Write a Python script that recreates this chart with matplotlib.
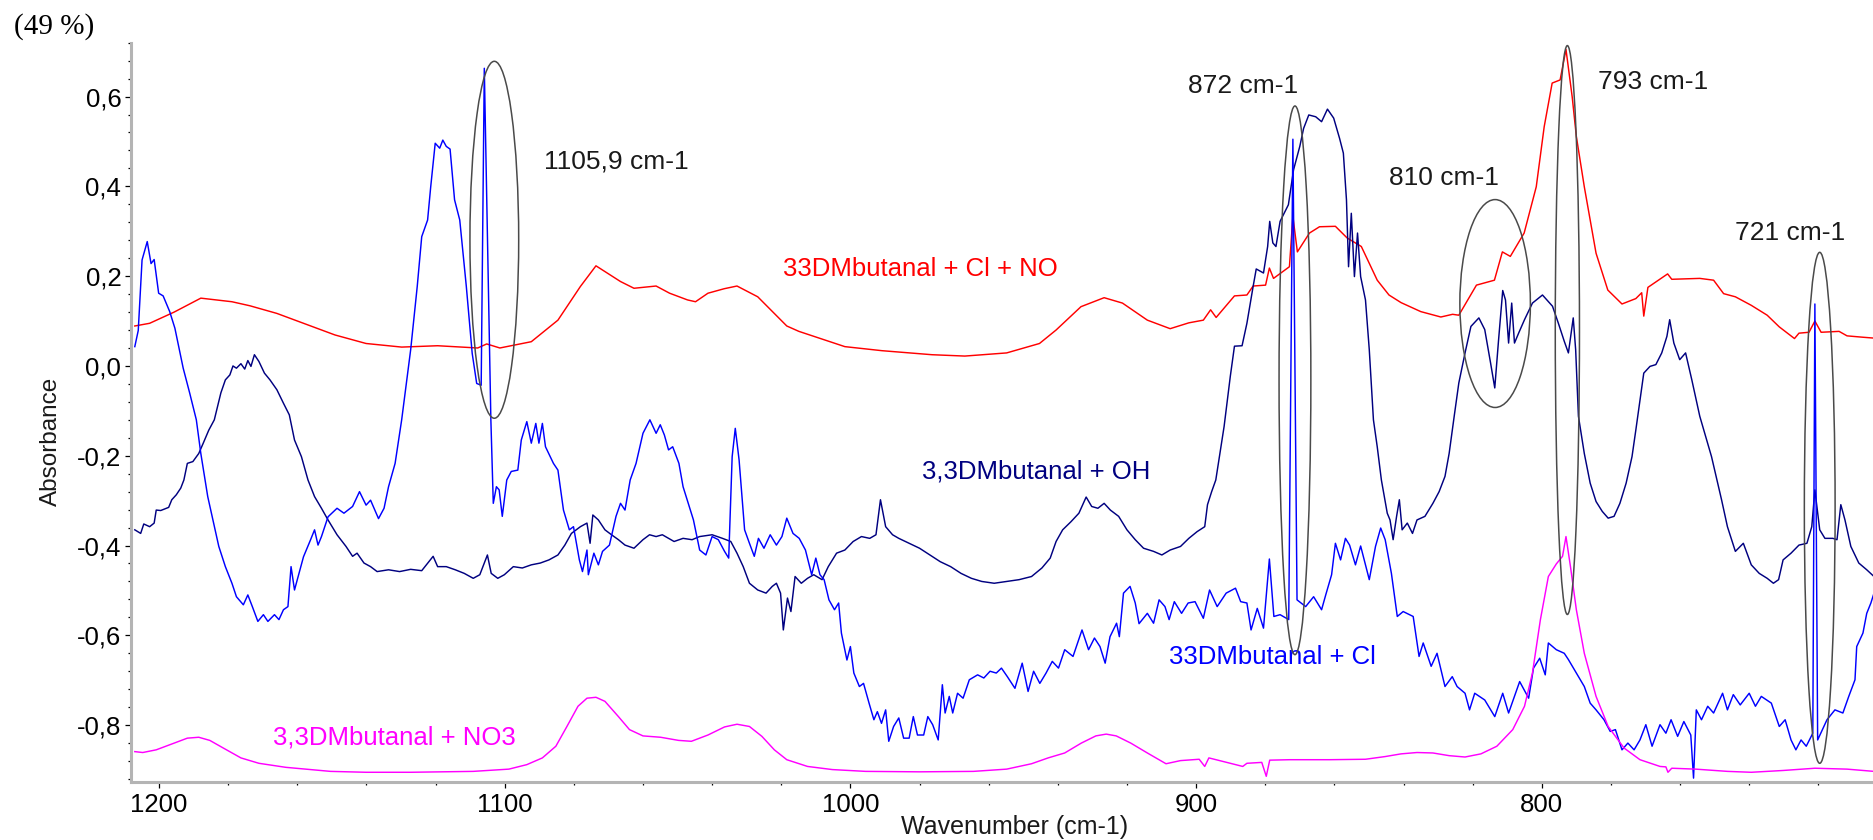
import matplotlib
matplotlib.use("Agg")
import matplotlib.pyplot as plt
from matplotlib.patches import Ellipse
from matplotlib.ticker import MultipleLocator, FixedLocator, FuncFormatter

# ---------------- spectra (wavenumber cm-1, absorbance) ----------------
wn_cl_no = [1207.0, 1202.7, 1195.6, 1187.9, 1178.9, 1173.7, 1165.9, 1158.2, 1149.1, 1140.1,
            1129.8, 1119.4, 1107.8, 1105.2, 1101.4, 1092.3, 1084.6, 1078.1, 1073.6, 1066.5,
            1062.6, 1056.2, 1052.3, 1047.1, 1044.8, 1041.2, 1036.5, 1032.8, 1026.8, 1018.4,
            1014.9, 1001.6, 990.9, 976.4, 966.9, 954.8, 945.3, 940.5, 933.3, 926.6,
            921.3, 914.1, 907.5, 902.1, 897.9, 895.8, 894.2, 888.9, 885.3, 883.5,
            879.9, 878.8, 877.6, 873.0, 872.0, 870.7, 867.2, 864.3, 859.7, 856.3,
            852.2, 847.6, 844.2, 840.7, 835.0, 829.2, 825.8, 824.0, 818.9, 813.7,
            811.4, 809.1, 805.1, 801.6, 799.3, 797.0, 794.7, 793.0, 791.2, 790.0,
            787.7, 784.3, 780.9, 776.8, 772.8, 771.1, 770.5, 769.3, 763.6, 762.4,
            754.3, 750.3, 747.4, 744.0, 739.4, 734.8, 731.3, 726.9, 725.6, 722.7,
            721.0, 719.2, 714.0, 711.7, 707.2, 703.9]
ab_cl_no = [0.089, 0.095, 0.120, 0.151, 0.143, 0.134, 0.117, 0.095, 0.069, 0.050,
            0.042, 0.045, 0.040, 0.049, 0.040, 0.054, 0.102, 0.177, 0.223, 0.188,
            0.173, 0.178, 0.162, 0.147, 0.143, 0.162, 0.172, 0.178, 0.154, 0.089,
            0.077, 0.043, 0.034, 0.025, 0.022, 0.029, 0.050, 0.080, 0.132, 0.152,
            0.140, 0.102, 0.083, 0.096, 0.102, 0.125, 0.108, 0.156, 0.158, 0.178,
            0.180, 0.218, 0.195, 0.221, 0.333, 0.254, 0.296, 0.310, 0.311, 0.285,
            0.266, 0.191, 0.158, 0.141, 0.121, 0.109, 0.115, 0.113, 0.180, 0.191,
            0.254, 0.244, 0.296, 0.399, 0.533, 0.630, 0.637, 0.705, 0.599, 0.511,
            0.399, 0.251, 0.169, 0.138, 0.150, 0.163, 0.111, 0.175, 0.205, 0.193,
            0.195, 0.191, 0.161, 0.154, 0.135, 0.113, 0.087, 0.061, 0.073, 0.075,
            0.100, 0.075, 0.077, 0.067, 0.064, 0.062]

wn_oh = [1207.0, 1205.3, 1204.4, 1202.7, 1201.4, 1200.8, 1199.5, 1197.2, 1196.3, 1195.0,
         1193.7, 1192.8, 1191.8, 1190.2, 1188.5, 1187.2, 1185.6, 1184.0, 1182.1, 1180.8,
         1179.5, 1178.6, 1177.6, 1176.3, 1175.2, 1174.3, 1173.4, 1172.4, 1171.1, 1169.5,
         1167.9, 1165.9, 1164.0, 1162.3, 1160.8, 1158.8, 1156.9, 1155.0, 1153.0, 1151.1,
         1148.5, 1145.9, 1144.0, 1142.7, 1140.7, 1138.8, 1136.9, 1133.6, 1130.4, 1127.2,
         1124.0, 1120.7, 1119.4, 1116.9, 1114.3, 1111.7, 1109.1, 1107.2, 1105.9, 1105.0,
         1103.9, 1102.0, 1100.1, 1097.5, 1094.9, 1092.3, 1089.7, 1087.2, 1084.6, 1082.6,
         1080.7, 1078.1, 1076.2, 1075.3, 1074.5, 1072.9, 1071.0, 1069.1, 1067.1, 1065.2,
         1062.6, 1060.0, 1058.1, 1056.2, 1054.4, 1051.0, 1048.4, 1045.8, 1043.6, 1040.0,
         1037.0, 1034.6, 1032.8, 1031.0, 1029.2, 1026.8, 1024.4, 1022.6, 1021.4, 1020.2,
         1019.4, 1018.2, 1017.2, 1016.0, 1014.2, 1012.4, 1010.6, 1008.2, 1006.4, 1004.0,
         1001.6, 999.2, 996.8, 994.4, 992.6, 991.3, 989.8, 987.8, 986.0, 983.0,
         980.0, 977.0, 974.0, 971.0, 968.0, 965.0, 962.0, 958.4, 954.8, 951.2,
         947.6, 944.6, 942.2, 940.5, 938.6, 936.2, 933.9, 931.8, 930.2, 928.4,
         926.6, 924.8, 922.4, 920.0, 917.6, 915.2, 912.3, 909.9, 907.5, 904.5,
         902.1, 899.7, 897.5, 896.7, 895.5, 894.3, 893.1, 891.9, 890.1, 888.9,
         886.7, 885.3, 883.5, 882.6, 880.5, 879.3, 878.7, 877.8, 876.9, 875.7,
         873.3, 871.8, 870.0, 868.9, 867.4, 865.4, 863.7, 862.0, 860.2, 858.5,
         857.4, 856.5, 855.9, 855.1, 854.2, 853.3, 852.4, 851.0, 849.9, 848.7,
         847.6, 846.4, 844.7, 843.9, 843.0, 842.0, 841.2, 840.4, 838.9, 837.4,
         836.1, 833.8, 831.5, 829.7, 828.0, 826.8, 825.9, 825.3, 824.0, 822.2,
         820.5, 818.2, 816.5, 814.8, 813.6, 812.5, 811.3, 810.5, 809.6, 808.7,
         807.9, 806.7, 805.0, 802.7, 799.8, 796.9, 795.2, 793.5, 792.3, 790.9,
         790.2, 789.4, 787.7, 786.0, 784.3, 782.5, 780.8, 779.1, 777.4, 775.6,
         773.9, 772.8, 770.5, 768.7, 767.0, 765.3, 763.8, 763.0, 761.8, 760.1,
         758.4, 756.6, 754.3, 750.9, 748.0, 746.3, 744.0, 741.7, 739.4, 737.1,
         734.8, 733.0, 731.5, 730.2, 727.9, 725.6, 723.3, 721.9, 721.0, 719.6,
         718.1, 715.8, 714.6, 713.5, 712.3, 710.6, 708.3, 706.0, 703.9]
ab_oh = [-0.365, -0.373, -0.352, -0.358, -0.350, -0.321, -0.322, -0.315, -0.298, -0.287,
         -0.272, -0.254, -0.217, -0.213, -0.195, -0.172, -0.143, -0.120, -0.060, -0.031,
         -0.020, 0.000, -0.005, 0.005, -0.007, 0.012, -0.001, 0.025, 0.010, -0.016,
         -0.031, -0.053, -0.083, -0.109, -0.165, -0.202, -0.254, -0.291, -0.317, -0.343,
         -0.376, -0.402, -0.424, -0.417, -0.439, -0.447, -0.458, -0.454, -0.458, -0.453,
         -0.456, -0.424, -0.447, -0.447, -0.454, -0.462, -0.473, -0.465, -0.439, -0.421,
         -0.462, -0.473, -0.465, -0.447, -0.450, -0.443, -0.439, -0.432, -0.421, -0.399,
         -0.373, -0.358, -0.350, -0.395, -0.332, -0.343, -0.365, -0.376, -0.387, -0.399,
         -0.406, -0.387, -0.376, -0.380, -0.376, -0.391, -0.384, -0.387, -0.380, -0.376,
         -0.384, -0.391, -0.417, -0.447, -0.484, -0.499, -0.506, -0.491, -0.484, -0.506,
         -0.588, -0.517, -0.547, -0.469, -0.484, -0.473, -0.465, -0.476, -0.447, -0.417,
         -0.410, -0.391, -0.380, -0.384, -0.376, -0.298, -0.358, -0.376, -0.384, -0.395,
         -0.406, -0.421, -0.436, -0.447, -0.462, -0.473, -0.480, -0.484, -0.480, -0.476,
         -0.469, -0.450, -0.428, -0.391, -0.365, -0.347, -0.328, -0.292, -0.313, -0.317,
         -0.306, -0.321, -0.335, -0.365, -0.387, -0.406, -0.413, -0.421, -0.410, -0.402,
         -0.384, -0.369, -0.358, -0.309, -0.280, -0.254, -0.195, -0.135, -0.023, 0.044,
         0.045, 0.095, 0.177, 0.216, 0.207, 0.266, 0.322, 0.274, 0.266, 0.322,
         0.359, 0.437, 0.489, 0.529, 0.559, 0.555, 0.544, 0.572, 0.552, 0.507,
         0.474, 0.370, 0.221, 0.340, 0.199, 0.296, 0.199, 0.147, 0.036, -0.120,
         -0.180, -0.254, -0.328, -0.343, -0.387, -0.335, -0.298, -0.365, -0.350, -0.373,
         -0.343, -0.335, -0.306, -0.280, -0.246, -0.195, -0.143, -0.110, -0.038, 0.029,
         0.088, 0.107, 0.081, 0.006, -0.049, 0.058, 0.168, 0.147, 0.051, 0.140,
         0.051, 0.073, 0.103, 0.140, 0.158, 0.133, 0.095, 0.055, 0.029, 0.107,
         0.036, -0.112, -0.195, -0.261, -0.302, -0.324, -0.339, -0.335, -0.306, -0.261,
         -0.202, -0.143, -0.016, -0.001, 0.003, 0.029, 0.066, 0.103, 0.051, 0.014,
         0.029, -0.031, -0.112, -0.202, -0.298, -0.358, -0.413, -0.395, -0.443, -0.462,
         -0.473, -0.484, -0.476, -0.432, -0.417, -0.399, -0.395, -0.358, -0.276, -0.365,
         -0.384, -0.384, -0.387, -0.309, -0.343, -0.402, -0.439, -0.454, -0.469]

wn_cl = [1207.0, 1206.0, 1204.9, 1203.4, 1202.3, 1201.4, 1200.1, 1198.8, 1196.9, 1195.4,
         1193.0, 1191.1, 1189.2, 1187.9, 1185.9, 1182.7, 1180.8, 1178.9, 1177.6, 1175.6,
         1174.3, 1173.0, 1171.4, 1169.8, 1168.5, 1166.6, 1165.3, 1164.0, 1162.7, 1161.8,
         1160.8, 1158.2, 1156.2, 1155.0, 1154.0, 1153.0, 1151.1, 1148.5, 1146.5, 1144.0,
         1142.0, 1140.1, 1138.8, 1136.5, 1134.9, 1133.6, 1131.7, 1129.8, 1127.2, 1125.3,
         1124.0, 1122.3, 1121.4, 1120.1, 1118.8, 1117.9, 1116.9, 1115.8, 1114.5, 1113.0,
         1111.1, 1109.4, 1108.1, 1106.8, 1105.9, 1104.0, 1103.3, 1102.4, 1101.6, 1100.7,
         1099.4, 1098.1, 1096.2, 1095.2, 1093.6, 1092.3, 1091.0, 1090.1, 1089.1, 1088.2,
         1085.9, 1084.6, 1083.0, 1081.3, 1080.1, 1078.4, 1077.5, 1076.2, 1075.8, 1074.2,
         1072.9, 1071.7, 1069.7, 1067.8, 1066.5, 1065.2, 1063.7, 1062.0, 1060.0, 1058.0,
         1056.2, 1055.0, 1053.8, 1052.6, 1051.4, 1049.6, 1048.4, 1046.6, 1045.4, 1043.6,
         1041.8, 1040.0, 1038.2, 1036.4, 1035.2, 1034.2, 1033.3, 1032.2, 1030.6, 1029.2,
         1027.8, 1026.6, 1025.0, 1023.2, 1021.4, 1019.8, 1018.4, 1016.6, 1014.8, 1013.0,
         1011.2, 1010.0, 1008.8, 1007.6, 1006.2, 1004.6, 1003.4, 1002.6, 1001.0, 1000.0,
         999.0, 997.4, 996.2, 994.6, 993.2, 992.2, 991.0, 989.8, 988.9, 987.5,
         986.0, 984.6, 983.0, 981.8, 980.6, 978.8, 977.6, 976.2, 974.6, 973.4,
         972.6, 971.4, 970.4, 969.0, 967.4, 965.6, 963.2, 961.4, 959.6, 957.8,
         956.3, 954.6, 952.4, 950.3, 948.6, 947.0, 945.2, 943.4, 941.6, 939.8,
         938.0, 935.6, 933.0, 931.1, 929.4, 927.8, 926.3, 924.9, 923.0, 922.2,
         921.0, 919.1, 917.6, 916.5, 914.1, 912.3, 910.7, 909.0, 907.8, 906.3,
         904.2, 902.3, 900.3, 897.9, 896.1, 893.9, 891.3, 888.6, 887.1, 885.3,
         884.1, 882.3, 880.5, 878.8, 877.5, 875.7, 873.2, 872.0, 870.8, 868.3,
         866.0, 863.7, 862.5, 860.8, 859.7, 858.2, 856.8, 855.6, 853.9, 852.4,
         849.9, 848.1, 846.6, 845.3, 843.5, 841.8, 840.1, 837.2, 835.5, 834.3,
         832.0, 830.3, 828.0, 825.9, 824.5, 822.2, 820.9, 819.4, 816.5, 813.6,
         811.3, 809.6, 806.4, 803.8, 802.4, 800.6, 799.0, 798.1, 795.8, 793.5,
         792.3, 790.0, 787.7, 786.0, 784.3, 782.0, 780.2, 778.7, 776.8, 775.1,
         773.3, 771.6, 769.9, 768.1, 765.8, 764.1, 762.6, 760.7, 758.9, 756.9,
         756.1, 755.3, 753.8, 752.0, 750.3, 747.7, 746.3, 744.6, 742.6, 740.0,
         738.2, 736.5, 733.6, 731.3, 729.6, 727.9, 726.5, 725.0, 723.5, 721.6,
         721.0, 720.2, 717.5, 715.2, 712.9, 711.2, 709.4, 708.9, 707.1, 706.0,
         704.8, 703.9]
ab_cl = [0.043, 0.079, 0.236, 0.277, 0.228, 0.237, 0.162, 0.156, 0.121, 0.084,
         -0.005, -0.061, -0.120, -0.195, -0.291, -0.402, -0.447, -0.484, -0.514, -0.532,
         -0.510, -0.536, -0.569, -0.554, -0.569, -0.554, -0.565, -0.543, -0.536, -0.447,
         -0.499, -0.425, -0.388, -0.365, -0.399, -0.380, -0.336, -0.317, -0.328, -0.313,
         -0.280, -0.310, -0.299, -0.340, -0.317, -0.269, -0.217, -0.120, 0.036, 0.177,
         0.288, 0.325, 0.399, 0.496, 0.485, 0.503, 0.489, 0.483, 0.370, 0.325,
         0.177, 0.028, -0.039, -0.043, 0.663, -0.120, -0.306, -0.269, -0.276, -0.335,
         -0.254, -0.235, -0.232, -0.165, -0.124, -0.172, -0.128, -0.172, -0.128, -0.180,
         -0.217, -0.232, -0.321, -0.365, -0.358, -0.432, -0.458, -0.410, -0.465, -0.417,
         -0.443, -0.413, -0.399, -0.335, -0.306, -0.321, -0.254, -0.217, -0.150, -0.120,
         -0.150, -0.131, -0.154, -0.187, -0.180, -0.217, -0.269, -0.313, -0.343, -0.410,
         -0.421, -0.380, -0.387, -0.413, -0.428, -0.202, -0.139, -0.209, -0.365, -0.395,
         -0.424, -0.384, -0.406, -0.376, -0.399, -0.380, -0.339, -0.373, -0.384, -0.410,
         -0.465, -0.428, -0.465, -0.476, -0.521, -0.543, -0.528, -0.595, -0.655, -0.625,
         -0.684, -0.714, -0.707, -0.751, -0.788, -0.770, -0.796, -0.766, -0.836, -0.803,
         -0.784, -0.829, -0.829, -0.781, -0.822, -0.822, -0.781, -0.799, -0.833, -0.710,
         -0.773, -0.736, -0.773, -0.729, -0.740, -0.699, -0.688, -0.695, -0.680, -0.684,
         -0.673, -0.692, -0.718, -0.662, -0.725, -0.680, -0.707, -0.684, -0.658, -0.673,
         -0.632, -0.647, -0.588, -0.632, -0.606, -0.625, -0.662, -0.603, -0.573, -0.603,
         -0.506, -0.491, -0.528, -0.574, -0.551, -0.573, -0.521, -0.536, -0.565, -0.525,
         -0.551, -0.528, -0.525, -0.562, -0.499, -0.536, -0.506, -0.495, -0.525, -0.528,
         -0.588, -0.540, -0.584, -0.430, -0.558, -0.554, -0.565, 0.505, -0.521, -0.536,
         -0.514, -0.543, -0.510, -0.465, -0.395, -0.432, -0.384, -0.399, -0.443, -0.401,
         -0.476, -0.402, -0.361, -0.387, -0.462, -0.558, -0.547, -0.558, -0.647, -0.617,
         -0.669, -0.640, -0.714, -0.692, -0.714, -0.729, -0.766, -0.729, -0.744, -0.781,
         -0.729, -0.773, -0.703, -0.740, -0.673, -0.651, -0.688, -0.617, -0.632, -0.640,
         -0.654, -0.684, -0.714, -0.751, -0.766, -0.788, -0.814, -0.810, -0.855, -0.840,
         -0.855, -0.833, -0.799, -0.847, -0.799, -0.818, -0.788, -0.825, -0.792, -0.822,
         -0.918, -0.766, -0.788, -0.758, -0.773, -0.729, -0.766, -0.732, -0.755, -0.729,
         -0.758, -0.736, -0.751, -0.803, -0.788, -0.833, -0.855, -0.833, -0.847, -0.818,
         0.138, -0.833, -0.788, -0.766, -0.773, -0.736, -0.699, -0.625, -0.595, -0.551,
         -0.528, -0.506]

wn_no3 = [1207.0, 1204.7, 1200.8, 1195.6, 1191.8, 1188.5, 1185.3, 1181.4, 1176.3, 1171.1,
          1163.3, 1150.4, 1140.1, 1127.2, 1109.1, 1098.8, 1093.6, 1089.1, 1085.2, 1082.0,
          1078.8, 1076.2, 1073.6, 1071.0, 1067.1, 1063.9, 1060.0, 1054.9, 1049.7, 1046.0,
          1041.2, 1036.4, 1032.8, 1029.2, 1025.6, 1022.0, 1018.4, 1012.4, 1005.2, 995.6,
          980.0, 964.4, 954.8, 947.6, 942.8, 938.0, 933.2, 929.0, 926.0, 923.1,
          918.9, 914.1, 908.7, 904.5, 899.1, 897.5, 896.3, 890.1, 886.5, 885.3,
          881.0, 879.7, 878.7, 872.9, 861.4, 851.0, 845.3, 840.7, 836.1, 831.5,
          826.8, 822.2, 817.6, 813.0, 808.4, 805.0, 802.7, 800.4, 798.1, 795.8,
          794.0, 793.0, 791.7, 790.0, 787.7, 784.3, 780.8, 776.2, 771.6, 765.8,
          764.1, 763.5, 762.4, 755.5, 746.3, 739.4, 730.2, 721.0, 711.7, 703.9]
ab_no3 = [-0.859, -0.861, -0.855, -0.840, -0.829, -0.827, -0.834, -0.851, -0.873, -0.885,
          -0.894, -0.903, -0.905, -0.905, -0.903, -0.898, -0.888, -0.873, -0.847, -0.803,
          -0.758, -0.740, -0.738, -0.747, -0.781, -0.810, -0.824, -0.827, -0.834, -0.836,
          -0.822, -0.804, -0.798, -0.803, -0.825, -0.855, -0.877, -0.892, -0.899, -0.903,
          -0.904, -0.903, -0.898, -0.886, -0.873, -0.862, -0.840, -0.824, -0.820, -0.824,
          -0.840, -0.862, -0.886, -0.879, -0.876, -0.892, -0.873, -0.885, -0.892, -0.885,
          -0.883, -0.914, -0.878, -0.877, -0.877, -0.876, -0.870, -0.864, -0.861, -0.862,
          -0.868, -0.871, -0.864, -0.847, -0.810, -0.758, -0.684, -0.565, -0.469, -0.441,
          -0.424, -0.380, -0.447, -0.543, -0.640, -0.736, -0.803, -0.851, -0.877, -0.892,
          -0.893, -0.905, -0.896, -0.898, -0.903, -0.905, -0.901, -0.896, -0.898, -0.903]

series_names = ["33DMbutanal + Cl + NO", "3,3DMbutanal + OH",
                "33DMbutanal + Cl", "3,3DMbutanal + NO3"]
peak_labels = ["1105,9 cm-1", "872 cm-1", "810 cm-1", "793 cm-1", "721 cm-1"]

# ---------------- figure ----------------
plt.rcParams['font.family'] = ['Liberation Sans', 'DejaVu Sans']

fig = plt.figure(figsize=(18.74, 8.40), dpi=100)
ax = fig.add_axes([0.0699, 0.0694, 0.9301, 0.8798])

c_red, c_navy, c_blue, c_mag = "#ff0000", "#000080", "#0000ff", "#ff00ff"
lw = 1.05
ax.plot(wn_cl_no, ab_cl_no, color=c_red, lw=lw)
ax.plot(wn_oh, ab_oh, color=c_navy, lw=lw)
ax.plot(wn_cl, ab_cl, color=c_blue, lw=lw)
ax.plot(wn_no3, ab_no3, color=c_mag, lw=lw)

ax.set_xlim(1208.1, 703.9)
ax.set_ylim(-0.926, 0.720)

# axes styling: grey left/bottom rails with small black ticks
for side in ("top", "right"):
    ax.spines[side].set_visible(False)
for side in ("left", "bottom"):
    ax.spines[side].set_color("#b4b4b4")
    ax.spines[side].set_linewidth(2.2)

ax.xaxis.set_major_locator(FixedLocator([1200, 1100, 1000, 900, 800]))
ax.xaxis.set_minor_locator(MultipleLocator(20))
ax.yaxis.set_major_locator(MultipleLocator(0.2))
ax.yaxis.set_minor_locator(MultipleLocator(0.04))

def comma_fmt(v, pos):
    s = f"{v:.1f}".replace(".", ",")
    return "0,0" if s == "-0,0" else s

ax.yaxis.set_major_formatter(FuncFormatter(comma_fmt))
ax.xaxis.set_major_formatter(FuncFormatter(lambda v, p: f"{v:.0f}"))

ax.tick_params(which="major", direction="out", length=4, width=0.9, color="black",
               labelsize=18.5, pad=4)
ax.tick_params(which="minor", direction="out", length=2.2, width=0.9, color="black")
ax.tick_params(axis="y", which="major", pad=3)

fig.text(1015 / 1874, 1 - 827 / 840, "Wavenumber (cm-1)", ha="center", va="center",
         fontsize=18, color="#1a1a1a")
fig.text(51 / 1874, 1 - 441 / 840, "Absorbance", ha="center", va="center",
         rotation=90, fontsize=17.5, color="#1a1a1a")
fig.text(14 / 1874, 1 - 27 / 840, "(49 %)", ha="left", va="center", fontsize=21,
         family=["Liberation Serif", "DejaVu Serif"], color="black")

# band markers
ell_color = "#4a4a4a"
for cx, cy, w, h in [(1103.0, 0.281, 14.1, 0.795),
                     (871.4, -0.032, 9.2, 1.222),
                     (813.5, 0.139, 20.4, 0.463),
                     (792.6, 0.080, 7.0, 1.267),
                     (719.6, -0.316, 8.9, 1.138)]:
    ax.add_patch(Ellipse((cx, cy), w, h, fill=False, edgecolor=ell_color, lw=1.1, zorder=5))

for (tx, ty), txt in zip([(1088.5, 0.455), (902.4, 0.623), (844.2, 0.418),
                          (783.7, 0.633), (744.2, 0.297)], peak_labels):
    ax.text(tx, ty, txt, ha="left", va="center", fontsize=19, color="#1a1a1a")

for (tx, ty), txt, col in zip([(1019.4, 0.216), (979.4, -0.235), (907.8, -0.649), (1167.0, -0.827)],
                              series_names, [c_red, c_navy, c_blue, c_mag]):
    ax.text(tx, ty, txt, ha="left", va="center", fontsize=18.5, color=col)

fig.savefig("out.png", dpi=100)
